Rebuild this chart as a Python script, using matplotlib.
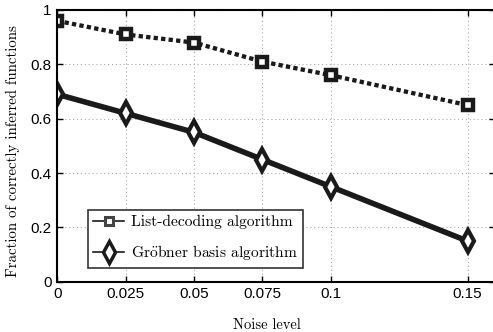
import matplotlib
matplotlib.use("Agg")
import matplotlib.pyplot as plt

noise = [0, 0.025, 0.05, 0.075, 0.1, 0.15]
list_decoding = [0.96, 0.91, 0.88, 0.81, 0.76, 0.65]
groebner = [0.69, 0.62, 0.55, 0.45, 0.35, 0.15]
xticks = [0, 0.025, 0.05, 0.075, 0.1, 0.15]
xticklabels = ["0", "0.025", "0.05", "0.075", "0.1", "0.15"]
yticks = [0, 0.2, 0.4, 0.6, 0.8, 1.0]
yticklabels = ["0", "0.2", "0.4", "0.6", "0.8", "1"]

SERIF = ["cmr10", "DejaVu Serif"]
INK = "#1a1a1a"
plt.rcParams["font.family"] = ["Liberation Sans", "DejaVu Sans"]
plt.rcParams["mathtext.fontset"] = "cm"

fig = plt.figure(figsize=(4.93, 3.32), dpi=100)
ax = fig.add_axes([0.116, 0.151, 0.888, 0.819])

ax.plot(noise, list_decoding, color=INK, lw=3.1, ls=(0, (1, 0.75)),
        marker="s", ms=6.5, mfc="white", mec=INK, mew=3.2,
        label="List-decoding algorithm")
# umlaut drawn with mathtext so it stays in Computer Modern
ax.plot(noise, groebner, color=INK, lw=4, ls="-",
        marker="d", ms=11, mfc="white", mec=INK, mew=3,
        label=r"Gr$\ddot{\mathrm{o}}$bner basis algorithm")

ax.set_xlim(0, 0.16)
ax.set_ylim(0, 1)
ax.set_xticks(xticks)
ax.set_xticklabels(xticklabels)
ax.set_yticks(yticks)
ax.set_yticklabels(yticklabels)
ax.tick_params(direction="in", top=True, right=True, labelsize=11, length=4, width=1, pad=4)
ax.grid(True, ls=(0, (1, 2.5)), color="#aaaaaa", lw=0.8)
for side in ["left", "bottom", "top"]:
    ax.spines[side].set_linewidth(1.5)
ax.spines["right"].set_visible(False)

ax.set_xlabel("Noise level", family=SERIF, fontsize=10.5)
ax.xaxis.set_label_coords(0.479, -0.135)
ax.set_ylabel("Fraction of correctly inferred functions", family=SERIF, fontsize=10.7)
ax.yaxis.set_label_coords(-0.085, 0.48)

leg = ax.legend(loc="lower left", bbox_to_anchor=(0.07, 0.052), prop={"family": SERIF, "size": 11.2},
                fancybox=False, framealpha=1, edgecolor="#333333", handlelength=2.0,
                borderpad=0.35, labelspacing=0.9, handletextpad=0.4, borderaxespad=0)
leg.get_frame().set_linewidth(1.2)
for h in leg.get_lines():
    h.set_linewidth(1.2)
    h.set_linestyle("-")
for h in leg.get_lines()[:1]:
    h.set_markersize(6)
    h.set_markeredgewidth(2.2)
    h.set_markeredgecolor("#444444")
for h in leg.get_lines()[1:]:
    h.set_markersize(11)
    h.set_markeredgewidth(2.5)

fig.savefig("out.png", dpi=100)
